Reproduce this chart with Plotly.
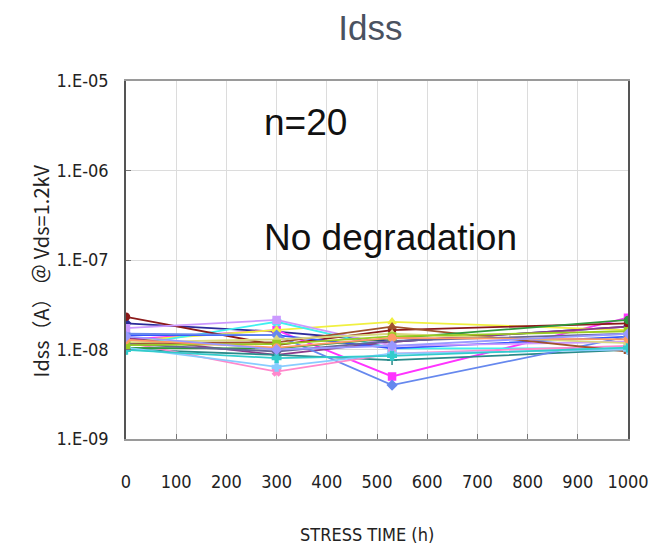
import plotly.graph_objects as go

# ---------------- data ----------------
stress_time = [0, 300, 530, 1000]

# Idss values in units of 1e-8 A for each of the 20 devices
s01 = [1.96, 1.58, 1.22, 1.80]
s02 = [1.30, 1.65, 0.50, 2.27]
s03 = [1.25, 1.65, 2.04, 1.65]
s04 = [1.10, 2.04, 1.03, 1.03]
s05 = [1.35, 0.87, 1.22, 1.80]
s06 = [2.32, 1.12, 1.65, 1.96]
s07 = [1.00, 0.87, 0.76, 0.99]
s08 = [1.45, 1.45, 1.03, 1.39]
s09 = [1.50, 1.45, 0.40, 1.39]
s10 = [1.20, 0.565, 0.90, 1.10]
s11 = [1.73, 2.14, 1.10, 1.22]
s12 = [1.18, 1.20, 1.80, 0.95]
s13 = [1.04, 1.03, 1.33, 2.14]
s14 = [1.05, 0.64, 0.90, 1.00]
s15 = [1.20, 1.30, 1.50, 1.18]
s16 = [1.15, 0.95, 1.25, 1.50]
s17 = [0.99, 0.80, 0.85, 1.05]
s18 = [1.12, 1.15, 1.40, 1.60]
s19 = [1.28, 1.05, 1.35, 1.30]
s20 = [1.40, 1.00, 1.10, 1.50]
series = [s01, s02, s03, s04, s05, s06, s07, s08, s09, s10,
          s11, s12, s13, s14, s15, s16, s17, s18, s19, s20]
scale = 1e-8

y_tick_vals = [1e-9, 1e-8, 1e-7, 1e-6, 1e-5]
y_tick_text = ["1.E-09", "1.E-08", "1.E-07", "1.E-06", "1.E-05"]
x_tick_vals = [0, 100, 200, 300, 400, 500, 600, 700, 800, 900, 1000]

# ---------------- styles ----------------
colors = ["#2b2b9a", "#ff33ff", "#f0f040", "#40f0f0", "#8a3a8a", "#8b1a1a",
          "#2a8a8a", "#3355ff", "#6688ee", "#ff88cc", "#cc99ff", "#a0522d",
          "#2e9a3e", "#88ccff", "#d8d880", "#666699", "#33cccc", "#99cc22",
          "#ff9966", "#9999ff"]
symbols = ["diamond", "square", "triangle-up", "x", "asterisk-open", "circle",
           "cross-thin-open", "line-ew-open", "diamond", "x", "square",
           "triangle-up", "circle", "cross", "triangle-up", "diamond",
           "cross", "square", "circle", "diamond"]

tick_font = "Liberation Sans Narrow, DejaVu Sans Condensed, Arial Narrow, Liberation Sans, sans-serif"

fig = go.Figure()
for i, s in enumerate(series):
    fig.add_trace(go.Scatter(
        x=stress_time,
        y=[v * scale for v in s],
        mode="lines+markers",
        line=dict(color=colors[i], width=1.8),
        marker=dict(symbol=symbols[i], size=7, color=colors[i],
                    line=dict(color=colors[i], width=1.5)),
        showlegend=False,
    ))

# the page body adds an 8px offset, so the figure is 8px smaller on each side
fig.update_layout(
    width=653, height=539,
    paper_bgcolor="white", plot_bgcolor="white",
    margin=dict(l=118, r=33, t=73, b=108, autoexpand=False),
    title=dict(text="Idss", x=0.555, xanchor="center", y=0.963, yanchor="middle",
               font=dict(family="Liberation Sans, Arial, sans-serif", size=35,
                         color="#4a5260")),
    showlegend=False,
)

fig.update_xaxes(
    range=[0, 1000], tickvals=x_tick_vals,
    showgrid=True, gridcolor="#dcdcdc", gridwidth=1,
    showline=True, linecolor="#9a9a9a", linewidth=1.5, mirror=True,
    ticks="inside", ticklen=5, tickcolor="#777777",
    ticklabelstandoff=26,
    tickfont=dict(family=tick_font, size=18, color="#222222"),
    zeroline=False, automargin=False,
)
fig.update_yaxes(
    type="log", range=[-9, -5], tickvals=y_tick_vals, ticktext=y_tick_text,
    showgrid=True, gridcolor="#dcdcdc", gridwidth=1,
    showline=True, linecolor="#555555", linewidth=1.5, mirror=True,
    ticks="inside", ticklen=5, tickcolor="#777777",
    ticklabelstandoff=12,
    tickfont=dict(family=tick_font, size=18, color="#222222"),
    zeroline=False, automargin=False,
)

fig.add_annotation(text="n=20", x=271, y=-5.46, xref="x", yref="y",
                   xanchor="left", yanchor="middle", showarrow=False,
                   font=dict(family="Liberation Sans, Arial, sans-serif", size=37, color="#111111"))
fig.add_annotation(text="No degradation", x=271, y=-6.75, xref="x", yref="y",
                   xanchor="left", yanchor="middle", showarrow=False,
                   font=dict(family="Liberation Sans, Arial, sans-serif", size=37, color="#111111"))
fig.add_annotation(text="Idss（A） ＠ Vds=1.2kV", x=-0.17, y=0.47, xref="paper", yref="paper",
                   xanchor="center", yanchor="middle", textangle=-90, showarrow=False,
                   font=dict(family="Noto Sans CJK JP, sans-serif", size=20, color="#222222"))
fig.add_annotation(text="STRESS TIME (h)", x=0.48, y=-0.268, xref="paper", yref="paper",
                   xanchor="center", yanchor="middle", showarrow=False,
                   font=dict(family=tick_font, size=18, color="#222222"))

fig.write_html("out.html")
